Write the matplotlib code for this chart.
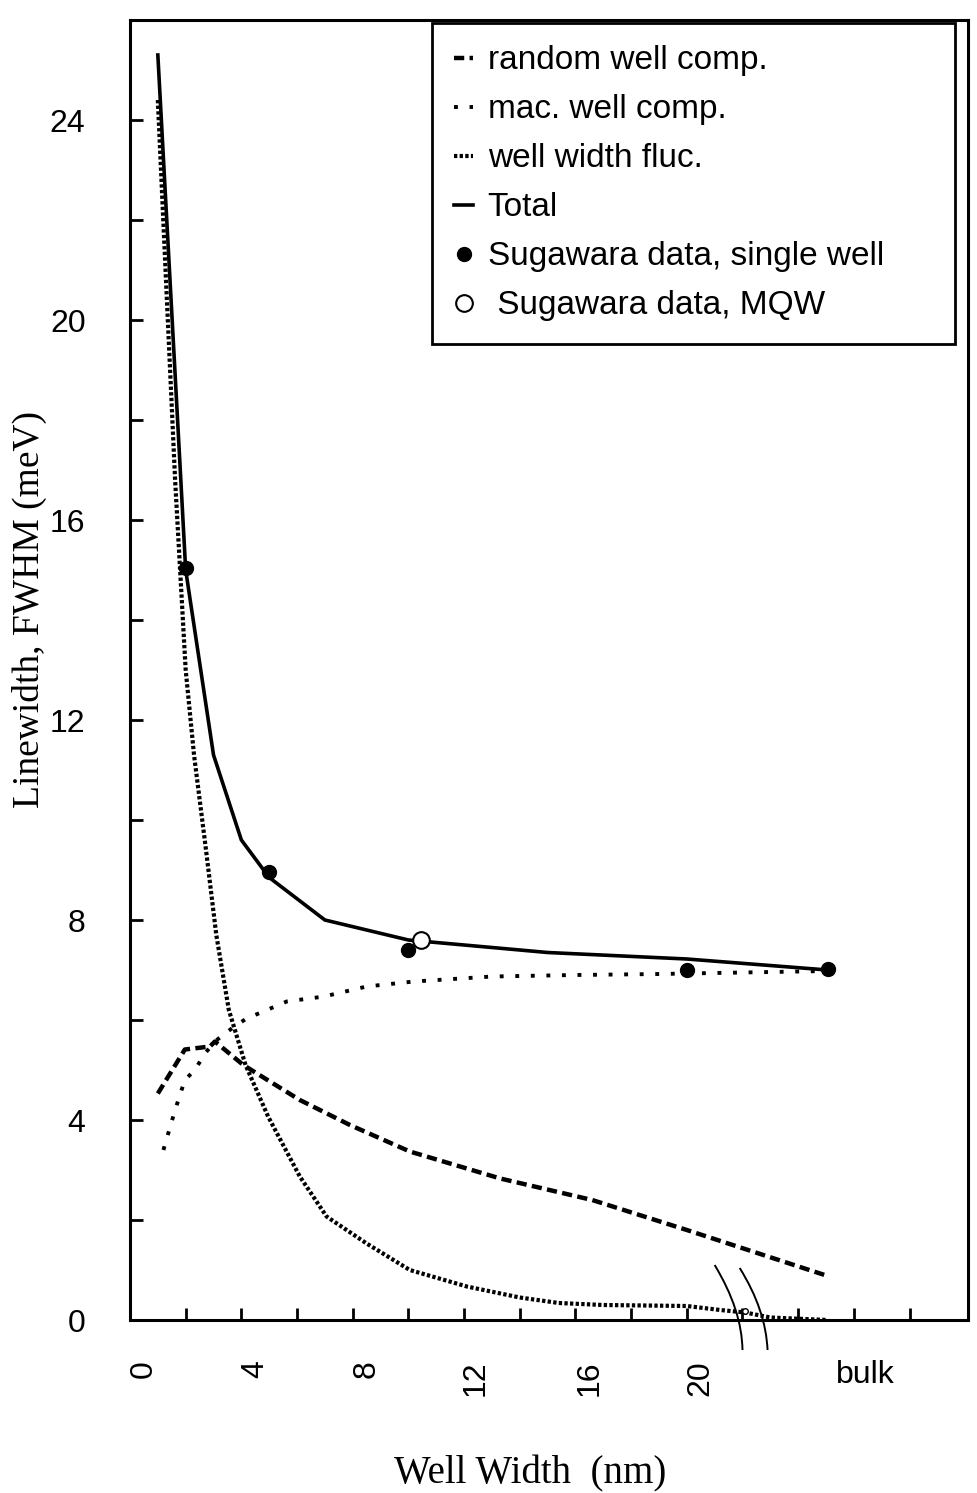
import numpy as np
import matplotlib.pyplot as plt
from matplotlib.path import Path
from matplotlib.patches import PathPatch

# 데이터
total_x = [1.0, 2.0, 3.0, 4.0, 5.0, 7.0, 10.0, 15.0, 20.0, 25.06]
total_y = [25.3, 15.0, 11.3, 9.6, 8.85, 8.0, 7.6, 7.35, 7.22, 7.0]

random_x = [1.0, 1.97, 2.87, 3.05, 4.07, 6.1, 7.9, 10.05, 13.3, 16.6, 20.0, 25.06]
random_y = [4.53, 5.41, 5.47, 5.57, 5.1, 4.4, 3.9, 3.37, 2.83, 2.4, 1.8, 0.88]

mac_x = [1.2, 1.62, 1.97, 2.33, 2.69, 3.05, 3.41, 3.83, 4.19, 5.0, 5.63, 6.97, 8.5, 10.2, 13.0, 16.0, 19.0, 22.0, 25.06]
mac_y = [3.4, 4.2, 4.8, 5.0, 5.33, 5.57, 5.73, 5.9, 6.03, 6.22, 6.37, 6.47, 6.67, 6.77, 6.87, 6.9, 6.92, 6.95, 6.98]

fluc_x = [1.0, 1.26, 1.44, 1.62, 2.0, 2.3, 2.73, 3.1, 3.55, 4.15, 4.96, 6.1, 7.06, 8.5, 10.05, 12.1, 14.0, 15.4, 17.0, 20.0, 21.2, 22.1, 23.0, 25.06]
fluc_y = [24.4, 21.2, 19.0, 16.8, 13.0, 11.3, 9.4, 7.7, 6.2, 5.1, 4.07, 2.87, 2.07, 1.53, 1.0, 0.67, 0.45, 0.34, 0.3, 0.28, 0.2, 0.15, 0.05, 0.0]

single_x = [2.0, 5.0, 10.0, 20.0, 25.06]
single_y = [15.05, 8.97, 7.4, 7.0, 7.02]
mqw_x = [10.45]
mqw_y = [7.6]

extra_x = [22.08]
extra_y = [0.18]

xlabel_pos = [0.5, 4.5, 8.5, 12.4, 16.5, 20.5, 26.4]
xlabel_txt = ['0', '4', '8', '12', '16', '20', 'bulk']

sans = 'Liberation Sans'
serif = 'Liberation Serif'

fig = plt.figure(figsize=(9.78, 14.93), dpi=100)
ax = fig.add_axes([130/978, 1-1320/1493, 838/978, 1300/1493])

l_rand, = ax.plot(random_x, random_y, color='black', lw=3.2, dashes=(2.3, 1.2))
l_mac, = ax.plot(mac_x, mac_y, color='black', lw=2.8, dashes=(1.0, 3.0))
l_fluc, = ax.plot(fluc_x, fluc_y, color='black', lw=3.0, dashes=(0.8, 0.55))
l_tot, = ax.plot(total_x, total_y, color='black', lw=2.6, solid_joinstyle='miter')
p_single, = ax.plot(single_x, single_y, 'o', color='black', ms=10, ls='none')
p_mqw, = ax.plot(mqw_x, mqw_y, 'o', mfc='white', mec='black', mew=1.5, ms=12, ls='none')
ax.plot(extra_x, extra_y, 'o', mfc='white', mec='black', mew=1.0, ms=4, ls='none')

# 축 끊김 표시
for x0, y0, cx, cy, x1, y1 in [(21.0, 1.1, 21.98, 0.2, 22.0, -0.6), (21.9, 1.04, 22.84, 0.2, 22.9, -0.6)]:
    path = Path([(x0, y0), (cx, cy), (x1, y1)], [Path.MOVETO, Path.CURVE3, Path.CURVE3])
    ax.add_patch(PathPatch(path, fc='none', ec='black', lw=1.4, clip_on=False))

ax.set_xlim(0, 30.1)
ax.set_ylim(0, 26)

# x축 눈금: 표시선은 minor, 라벨은 major
ax.set_xticks(xlabel_pos)
ax.set_xticklabels(xlabel_txt, fontfamily=sans, fontsize=23, rotation=90)
ax.set_xticks(np.arange(2, 29, 2), minor=True)
ax.tick_params(axis='x', which='major', length=0, pad=29)
ax.tick_params(axis='x', which='minor', direction='in', length=9, width=2)
ax.get_xticklabels()[-1].set_rotation(0)

ax.set_yticks(np.arange(0, 25, 4))
ax.set_yticklabels([str(v) for v in range(0, 25, 4)], fontfamily=sans, fontsize=23)
ax.set_yticks(np.arange(2, 25, 4), minor=True)
ax.tick_params(axis='y', which='both', direction='in', length=9, width=2, pad=32)

for s in ax.spines.values():
    s.set_linewidth(2.2)

fig.text(29/978, 1-610/1493, 'Linewidth, FWHM (meV)', rotation=90, ha='center', va='center',
         fontfamily=serif, fontsize=27)
fig.text(530/978, 1-1474/1493, 'Well Width  (nm)', ha='center', va='center',
         fontfamily=serif, fontsize=28)

leg = ax.legend([l_rand, l_mac, l_fluc, l_tot, p_single, p_mqw],
                ['random well comp.', 'mac. well comp.', 'well width fluc.', 'Total',
                 'Sugawara data, single well', ' Sugawara data, MQW'],
                loc='upper left', bbox_to_anchor=(0.360, 0.752, 0.6245, 0.246), mode='expand',
                borderaxespad=0, prop={'family': sans, 'size': 24}, handlelength=0.55,
                handletextpad=0.45, labelspacing=0.54, borderpad=0.68, fancybox=False,
                framealpha=1, markerscale=1.0)
leg.get_frame().set_edgecolor('black')
leg.get_frame().set_linewidth(2)

plt.savefig('out.png', dpi=100)
